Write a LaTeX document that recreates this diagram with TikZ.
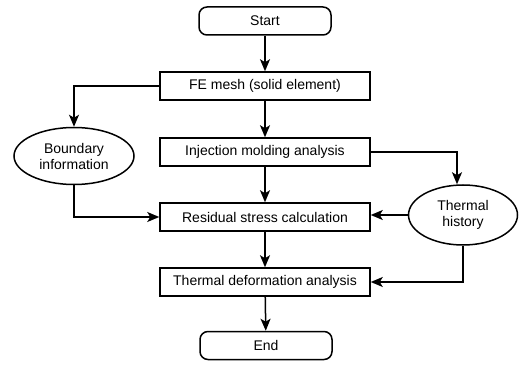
\documentclass[tikz,border=0pt]{standalone}
\usepackage{fontspec}
\setmainfont{Liberation Sans}
\usetikzlibrary{shapes.geometric,arrows.meta,positioning}
\begin{document}
\begin{tikzpicture}[x=1pt,y=1pt,
  every node/.style={font=\fontsize{14}{15}\selectfont},
  box/.style={draw,line width=1.5pt,minimum width=210pt,minimum height=28pt,inner sep=0pt},
  term/.style={draw,line width=1.5pt,rounded corners=8pt,minimum width=132pt,minimum height=28pt,inner sep=0pt},
  oval/.style={draw,ellipse,line width=1.5pt,inner sep=0pt,align=center,font=\fontsize{14}{16}\selectfont},
  arr/.style={line width=1.5pt,-{Stealth[length=12pt,width=10pt,inset=3pt]}}]
\useasboundingbox (0,0) rectangle (532,364);
\node[term] (start) at (265,343) {Start};
\node[box] (fe) at (265,278) {FE mesh (solid element)};
\node[box] (inj) at (265,212) {Injection molding analysis};
\node[oval,minimum width=120pt,minimum height=57pt] (bnd) at (74,208) {Boundary\\information};
\node[box] (res) at (265,147) {Residual stress calculation};
\node[oval,minimum width=109pt,minimum height=60pt] (th) at (463,149) {Thermal\\history};
\node[box] (tda) at (265,82) {Thermal deformation analysis};
\node[term] (end) at (266,18.5) {End};
\draw[arr] (start) -- (fe);
\draw[arr] (fe) -- (inj);
\draw[arr] (inj) -- (res);
\draw[arr] (res) -- (tda);
\draw[arr] (tda) -- (end);
\draw[arr] (fe.west) -| (bnd.north);
\draw[arr] (bnd.south) |- (res.west);
\draw[arr] (inj.east) -| ([xshift=-6pt]th.north);
\draw[arr] (th.west) -- (th.west -| res.east);
\draw[arr] (th.south) |- (tda.east);
\end{tikzpicture}
\end{document}
